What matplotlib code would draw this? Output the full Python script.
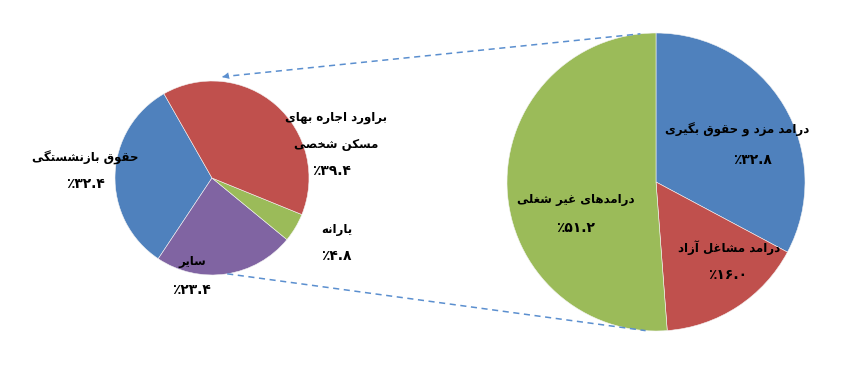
import numpy as np
import matplotlib
matplotlib.use("Agg")
import matplotlib.pyplot as plt

# small pie (left)
small_labels = ["حقوق بازنشستگی", "سایر", "یارانه", "براورد اجاره بهای\nمسکن شخصی"]
small_values = [32.4, 23.4, 4.8, 39.4]
small_colors = ["#4F81BD", "#8064A2", "#9BBB59", "#C0504D"]

# big pie (right)
big_labels = ["درامد مزد و حقوق بگیری", "درامد مشاغل آزاد", "درامدهای غیر شغلی"]
big_values = [32.8, 16.0, 51.2]
big_colors = ["#4F81BD", "#C0504D", "#9BBB59"]

# persian letters -> (isolated, final, initial, medial); None = no join to next
FORMS = {
    'ا': ('\uFE8D', '\uFE8E', None, None),
    'آ': ('\uFE81', '\uFE82', None, None),
    'ب': ('\uFE8F', '\uFE90', '\uFE91', '\uFE92'),
    'ت': ('\uFE95', '\uFE96', '\uFE97', '\uFE98'),
    'ج': ('\uFE9D', '\uFE9E', '\uFE9F', '\uFEA0'),
    'ح': ('\uFEA1', '\uFEA2', '\uFEA3', '\uFEA4'),
    'خ': ('\uFEA5', '\uFEA6', '\uFEA7', '\uFEA8'),
    'د': ('\uFEA9', '\uFEAA', None, None),
    'ر': ('\uFEAD', '\uFEAE', None, None),
    'ز': ('\uFEAF', '\uFEB0', None, None),
    'س': ('\uFEB1', '\uFEB2', '\uFEB3', '\uFEB4'),
    'ش': ('\uFEB5', '\uFEB6', '\uFEB7', '\uFEB8'),
    'ص': ('\uFEB9', '\uFEBA', '\uFEBB', '\uFEBC'),
    'غ': ('\uFECD', '\uFECE', '\uFECF', '\uFED0'),
    'ق': ('\uFED5', '\uFED6', '\uFED7', '\uFED8'),
    'ل': ('\uFEDD', '\uFEDE', '\uFEDF', '\uFEE0'),
    'م': ('\uFEE1', '\uFEE2', '\uFEE3', '\uFEE4'),
    'ن': ('\uFEE5', '\uFEE6', '\uFEE7', '\uFEE8'),
    'ه': ('\uFEE9', '\uFEEA', '\uFEEB', '\uFEEC'),
    'و': ('\uFEED', '\uFEEE', None, None),
    'ک': ('\uFB8E', '\uFB8F', '\uFB90', '\uFB91'),
    'گ': ('\uFB92', '\uFB93', '\uFB94', '\uFB95'),
    'ی': ('\uFBFC', '\uFBFD', '\uFBFE', '\uFBFF'),
}


def shape(text):
    # joins letters and flips each line for left-to-right drawing
    lines = []
    for line in text.split("\n"):
        out = []
        for i, c in enumerate(line):
            if c not in FORMS:
                out.append(c)
                continue
            prev = line[i - 1] if i > 0 else None
            nxt = line[i + 1] if i + 1 < len(line) else None
            jp = prev in FORMS and FORMS[prev][2] is not None
            jn = nxt in FORMS and FORMS[c][2] is not None
            iso, fin, ini, med = FORMS[c]
            if jp and jn:
                out.append(med)
            elif jp:
                out.append(fin)
            elif jn:
                out.append(ini)
            else:
                out.append(iso)
        lines.append("".join(reversed(out)))
    return "\n".join(lines)


def pct(v):
    return "٪" + f"{v:.1f}".translate(str.maketrans("0123456789", "۰۱۲۳۴۵۶۷۸۹"))


W, H = 851, 387
fig = plt.figure(figsize=(W / 100, H / 100), dpi=100)
ax = fig.add_axes([0, 0, 1, 1])

sc, sr = (212, H - 178), 97
bc, br = (656, H - 182), 149

ax.pie(small_values, colors=small_colors, startangle=119.7, counterclock=True,
       center=sc, radius=sr, wedgeprops=dict(linewidth=0.4, edgecolor="#f4f4f4"))
ax.pie(big_values, colors=big_colors, startangle=90, counterclock=False,
       center=bc, radius=br, wedgeprops=dict(linewidth=0.4, edgecolor="#f4f4f4"))

# connector lines
def on(c, r, a, k=1.0):
    return c[0] + k * r * np.cos(np.radians(a)), c[1] + k * r * np.sin(np.radians(a))

lc = "#5B8FCF"
p1, q1 = on(sc, sr, 84, 1.05), on(bc, br, 96, 1.0)
p2, q2 = on(sc, sr, -81, 1.0), on(bc, br, -94, 1.0)
ax.plot([p1[0], q1[0]], [p1[1], q1[1]], color=lc, lw=1.1, ls=(0, (4, 3)))
ax.plot([p2[0], q2[0]], [p2[1], q2[1]], color=lc, lw=1.1, ls=(0, (4, 3)))
ax.annotate("", xy=(p1[0] - 3, p1[1] - 1), xytext=(p1[0] + 6, p1[1] + 1),
            arrowprops=dict(arrowstyle="-|>", color=lc, lw=0, mutation_scale=12))

lkw = dict(fontsize=8.5, fontweight="bold", ha="center", va="center", color="black",
           family="DejaVu Sans")
pkw = dict(lkw, fontsize=10)

# label spots, in pixels from the top-left
small_pos = [(85, 158), (192, 262), (337, 230), (336, 131)]
small_ppos = [(85, 184), (191, 290), (336, 256), (332, 171)]
for lab, v, (x, y), (px, py) in zip(small_labels, small_values, small_pos, small_ppos):
    ax.text(x, H - y, shape(lab), linespacing=2.4, **lkw)
    ax.text(px, H - py, pct(v), **pkw)

big_pos = [(737, 130), (729, 248), (576, 200)]
big_ppos = [(753, 160), (728, 275), (576, 228)]
for lab, v, (x, y), (px, py) in zip(big_labels, big_values, big_pos, big_ppos):
    ax.text(x, H - y, shape(lab), **lkw)
    ax.text(px, H - py, pct(v), **pkw)

ax.set_xlim(0, W)
ax.set_ylim(0, H)
ax.set_aspect("equal")
ax.axis("off")
fig.savefig("out.png", dpi=100)
